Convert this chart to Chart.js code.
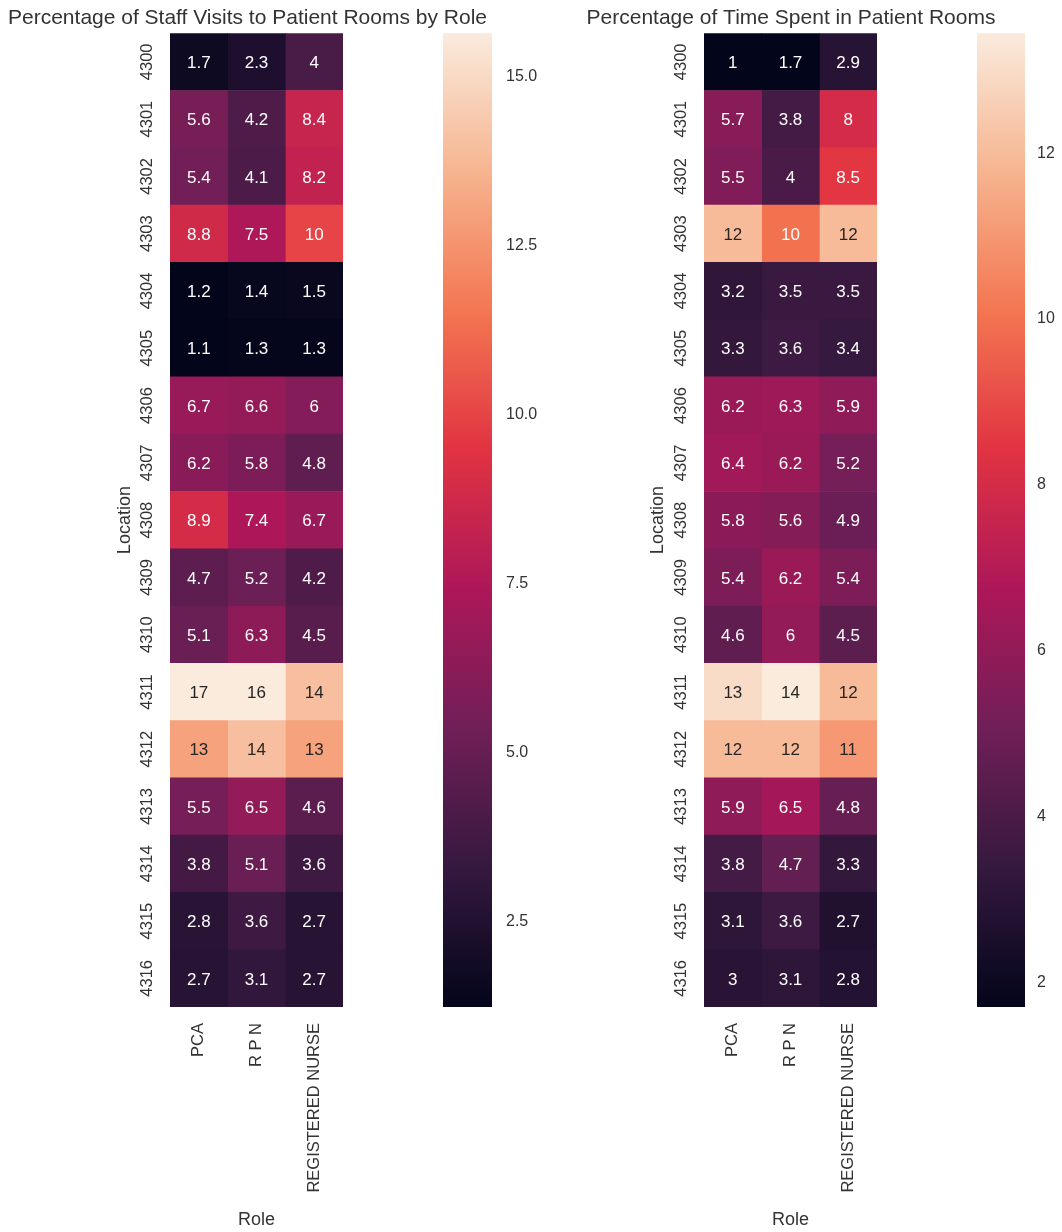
<!DOCTYPE html>
<html>
<head>
<meta charset="utf-8">
<title>Staff visits and time in patient rooms</title>
<script src="https://cdn.jsdelivr.net/npm/chart.js@4.4.1/dist/chart.umd.min.js"></script>
<style>
  html, body { margin: 0; padding: 0; background: #ffffff; overflow: hidden; }
  #page { position: relative; width: 1062px; height: 1232px; background: #ffffff; }
  canvas { position: absolute; top: 0; }
</style>
</head>
<body>
<div id="page">
  <canvas id="visitsMap" width="503" height="1232" style="left:0px"></canvas>
  <canvas id="visitsBar" width="150" height="1232" style="left:400px"></canvas>
  <canvas id="timeMap" width="528" height="1232" style="left:534px"></canvas>
  <canvas id="timeBar" width="128" height="1232" style="left:934px"></canvas>
</div>
<script>
// ---- data ----
const locations = ['4300', '4301', '4302', '4303', '4304', '4305', '4306', '4307', '4308',
                   '4309', '4310', '4311', '4312', '4313', '4314', '4315', '4316'];
const roles = ['PCA', 'R P N', 'REGISTERED NURSE'];

// % of staff visits to each room, per role
const visitsPCA = [1.7, 5.6, 5.4, 8.8, 1.2, 1.1, 6.7, 6.2, 8.9, 4.7, 5.1, 17, 13, 5.5, 3.8, 2.8, 2.7];
const visitsRPN = [2.3, 4.2, 4.1, 7.5, 1.4, 1.3, 6.6, 5.8, 7.4, 5.2, 6.3, 16, 14, 6.5, 5.1, 3.6, 3.1];
const visitsRN  = [4, 8.4, 8.2, 10, 1.5, 1.3, 6, 4.8, 6.7, 4.2, 4.5, 14, 13, 4.6, 3.6, 2.7, 2.7];

// % of time spent in each room, per role
const timePCA = [1, 5.7, 5.5, 12, 3.2, 3.3, 6.2, 6.4, 5.8, 5.4, 4.6, 13, 12, 5.9, 3.8, 3.1, 3];
const timeRPN = [1.7, 3.8, 4, 10, 3.5, 3.6, 6.3, 6.2, 5.6, 6.2, 6, 14, 12, 6.5, 4.7, 3.6, 3.1];
const timeRN  = [2.9, 8, 8.5, 12, 3.5, 3.4, 5.9, 5.2, 4.9, 5.4, 4.5, 12, 11, 4.8, 3.3, 2.7, 2.8];

// colour-scale limits (robust 2nd / 98th percentile) and colorbar ticks
const visitsRange = [1.23, 15.64];
const timeRange = [1.70, 13.45];
const visitsTicks = [2.5, 5, 7.5, 10, 12.5, 15];
const timeTicks = [2, 4, 6, 8, 10, 12];

// ---- styling ----
const FONT = '"Liberation Sans", Arial, Helvetica, sans-serif';
const TEXT = '#333333';
const DARK_LABEL = '#262626';
Chart.defaults.font.family = FONT;
Chart.defaults.color = TEXT;

// "rocket" sequential colormap, as stops on [0, 1]
const rocketStops = [
  [0.0, [3, 5, 26]],
  [1 / 7, [53, 25, 62]],
  [2 / 7, [112, 31, 87]],
  [3 / 7, [173, 23, 89]],
  [4 / 7, [225, 51, 66]],
  [5 / 7, [243, 118, 81]],
  [6 / 7, [246, 180, 143]],
  [1.0, [250, 235, 221]]
];

function rocketRGB(t) {
  t = Math.min(1, Math.max(0, t));
  for (let i = 1; i < rocketStops.length; i++) {
    const [t1, c1] = rocketStops[i];
    if (t <= t1) {
      const [t0, c0] = rocketStops[i - 1];
      const f = (t - t0) / (t1 - t0);
      return c0.map((c, k) => Math.round(c + (c1[k] - c) * f));
    }
  }
  return rocketStops[rocketStops.length - 1][1];
}

function cellColor(v, range) {
  const rgb = rocketRGB((v - range[0]) / (range[1] - range[0]));
  return `rgb(${rgb[0]}, ${rgb[1]}, ${rgb[2]})`;
}

// light cells get dark text, dark cells get white text
function labelColor(v, range) {
  const rgb = rocketRGB((v - range[0]) / (range[1] - range[0]));
  const lin = rgb.map(c => {
    c /= 255;
    return c <= 0.03928 ? c / 12.92 : Math.pow((c + 0.055) / 1.055, 2.4);
  });
  const lum = 0.2126 * lin[0] + 0.7152 * lin[1] + 0.0722 * lin[2];
  return lum > 0.408 ? DARK_LABEL : '#ffffff';
}

function fmt2g(v) {
  return String(Number(v.toPrecision(2)));
}

// writes each cell's value in the middle of its bar
const cellLabels = {
  id: 'cellLabels',
  afterDatasetsDraw(chart) {
    const ctx = chart.ctx;
    const range = chart.options.plugins.cellLabels.range;
    ctx.save();
    ctx.font = '17px ' + FONT;
    ctx.textAlign = 'center';
    ctx.textBaseline = 'middle';
    chart.data.datasets.forEach((ds, di) => {
      chart.getDatasetMeta(di).data.forEach((bar, i) => {
        const v = ds.values[i];
        const p = bar.getCenterPoint();
        ctx.fillStyle = labelColor(v, range);
        ctx.fillText(fmt2g(v), p.x, p.y + 1.5);
      });
    });
    ctx.restore();
  }
};

// geometry: left padding, right padding, y-axis band, right spacer band, "Location" offset
function heatmap(canvasId, title, series, range, geo) {
  const datasets = roles.map((role, ri) => ({
    label: role,
    data: series[ri].map(() => [ri, ri + 1]),
    values: series[ri],
    backgroundColor: series[ri].map(v => cellColor(v, range)),
    borderWidth: 0,
    grouped: false,
    barPercentage: 1,
    categoryPercentage: 1
  }));

  return new Chart(document.getElementById(canvasId), {
    type: 'bar',
    data: { labels: locations, datasets },
    plugins: [cellLabels],
    options: {
      indexAxis: 'y',
      responsive: false,
      animation: false,
      events: [],
      layout: { padding: { left: geo.padLeft, right: geo.padRight, top: 0, bottom: 0 } },
      plugins: {
        legend: { display: false },
        tooltip: { enabled: false },
        cellLabels: { range },
        title: {
          display: true,
          text: title,
          color: TEXT,
          font: { size: 21, weight: 'normal' },
          padding: { top: 6, bottom: 2 }
        }
      },
      scales: {
        x: {
          type: 'linear',
          position: 'bottom',
          min: 0,
          max: 3,
          afterBuildTicks(axis) {
            axis.ticks = roles.map((_, i) => ({ value: i + 0.5 }));
          },
          ticks: {
            callback: (value, index) => roles[index],
            minRotation: 90,
            maxRotation: 90,
            autoSkip: false,
            padding: 16,
            color: TEXT,
            font: { size: 16.5 }
          },
          grid: { display: false, drawTicks: false },
          border: { display: false },
          title: {
            display: true,
            text: 'Role',
            color: TEXT,
            font: { size: 18 },
            padding: { top: 0, bottom: 1 }
          },
          afterFit(axis) { axis.height = 225; }
        },
        y: {
          type: 'category',
          position: 'left',
          offset: true,
          ticks: {
            minRotation: 90,
            maxRotation: 90,
            crossAlign: 'center',
            autoSkip: false,
            padding: 4,
            color: TEXT,
            font: { size: 16.5 }
          },
          grid: { display: false, drawTicks: false },
          border: { display: false },
          title: {
            display: true,
            text: 'Location',
            color: TEXT,
            font: { size: 18 },
            padding: { top: geo.locPad, bottom: 0 }
          },
          afterFit(axis) { axis.width = geo.yBand; }
        },
        // empty right-hand axis that keeps the plot title centred over the grid
        spacer: {
          type: 'linear',
          position: 'right',
          display: true,
          ticks: { display: false },
          grid: { display: false, drawTicks: false },
          border: { display: false },
          afterFit(axis) { axis.width = geo.spacer; }
        }
      }
    }
  });
}

function colorbar(canvasId, range, tickValues, decimals, padLeft, axisWidth, tickPad) {
  const fill = (ctx) => {
    const chart = ctx.chart;
    if (!chart.chartArea) return null;
    const y = chart.scales.y;
    const g = chart.ctx.createLinearGradient(0, y.getPixelForValue(range[0]), 0, y.getPixelForValue(range[1]));
    rocketStops.forEach(([t, c]) => g.addColorStop(t, `rgb(${c[0]}, ${c[1]}, ${c[2]})`));
    return g;
  };

  return new Chart(document.getElementById(canvasId), {
    type: 'bar',
    data: {
      labels: [''],
      datasets: [{
        data: [range],
        backgroundColor: fill,
        borderWidth: 0,
        barPercentage: 1,
        categoryPercentage: 1
      }]
    },
    options: {
      responsive: false,
      animation: false,
      events: [],
      layout: { padding: { left: padLeft, right: 0, top: 33, bottom: 225 } },
      plugins: { legend: { display: false }, tooltip: { enabled: false } },
      scales: {
        x: { display: false },
        y: {
          type: 'linear',
          position: 'right',
          min: range[0],
          max: range[1],
          afterBuildTicks(axis) {
            axis.ticks = tickValues.map(v => ({ value: v }));
          },
          ticks: {
            callback: (v) => Number(v).toFixed(decimals),
            padding: tickPad,
            color: TEXT,
            font: { size: 16 }
          },
          grid: { display: false, drawTicks: false },
          border: { display: false },
          afterFit(axis) { axis.width = axisWidth; }
        }
      }
    }
  });
}

heatmap('visitsMap', 'Percentage of Staff Visits to Patient Rooms by Role',
        [visitsPCA, visitsRPN, visitsRN], visitsRange,
        { padLeft: 5, padRight: 13, yBand: 165, spacer: 147, locPad: 109 });
colorbar('visitsBar', visitsRange, visitsTicks, 1, 43, 58, 14);

heatmap('timeMap', 'Percentage of Time Spent in Patient Rooms',
        [timePCA, timeRPN, timeRN], timeRange,
        { padLeft: 10, padRight: 24, yBand: 160, spacer: 161, locPad: 103 });
colorbar('timeBar', timeRange, timeTicks, 0, 43, 37, 12);
</script>
</body>
</html>
